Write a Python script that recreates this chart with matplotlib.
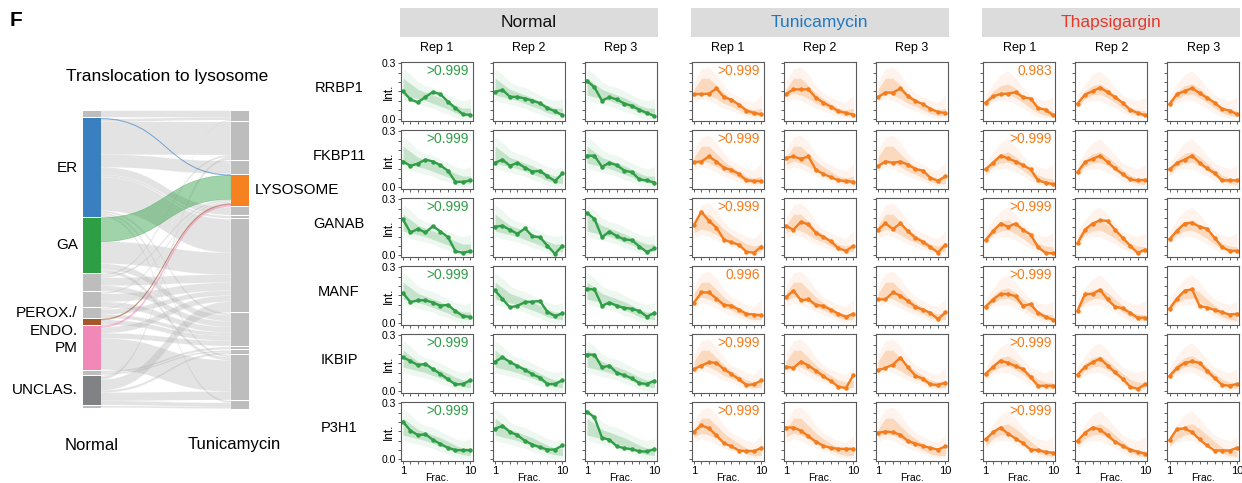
import numpy as np
import matplotlib
matplotlib.use("Agg")
import matplotlib.pyplot as plt
from matplotlib.path import Path
from matplotlib.patches import PathPatch, Rectangle

plt.rcParams['font.family'] = ['Liberation Sans', 'DejaVu Sans']

# ----------------
# data
# ----------------
proteins = ["RRBP1", "FKBP11", "GANAB", "MANF", "IKBIP", "P3H1"]
conditions = ["Normal", "Tunicamycin", "Thapsigargin"]
reps = ["Rep 1", "Rep 2", "Rep 3"]
fractions = list(range(1, 11))

# profiles of the highlighted protein, rows = proteins, 10 fractions each
normal_rep1 = [
    [0.151, 0.106, 0.091, 0.120, 0.146, 0.134, 0.094, 0.060, 0.026, 0.024],
    [0.138, 0.115, 0.127, 0.148, 0.138, 0.118, 0.088, 0.029, 0.029, 0.037],
    [0.192, 0.122, 0.141, 0.122, 0.156, 0.127, 0.097, 0.022, 0.014, 0.022],
    [0.162, 0.113, 0.123, 0.123, 0.111, 0.094, 0.099, 0.065, 0.039, 0.034],
    [0.182, 0.162, 0.140, 0.147, 0.118, 0.093, 0.064, 0.037, 0.039, 0.059],
    [0.201, 0.154, 0.129, 0.134, 0.104, 0.082, 0.062, 0.049, 0.049, 0.049],
]
normal_rep2 = [
    [0.146, 0.158, 0.120, 0.120, 0.111, 0.100, 0.086, 0.060, 0.043, 0.022],
    [0.131, 0.148, 0.115, 0.131, 0.105, 0.084, 0.088, 0.059, 0.034, 0.074],
    [0.153, 0.158, 0.136, 0.115, 0.144, 0.102, 0.097, 0.051, 0.008, 0.051],
    [0.176, 0.130, 0.085, 0.094, 0.113, 0.116, 0.119, 0.061, 0.039, 0.053],
    [0.158, 0.182, 0.157, 0.135, 0.115, 0.091, 0.073, 0.039, 0.039, 0.059],
    [0.163, 0.179, 0.146, 0.129, 0.099, 0.079, 0.065, 0.052, 0.052, 0.074],
]
normal_rep3 = [
    [0.206, 0.171, 0.100, 0.118, 0.106, 0.084, 0.072, 0.051, 0.034, 0.017],
    [0.169, 0.169, 0.110, 0.131, 0.118, 0.089, 0.081, 0.042, 0.037, 0.025],
    [0.226, 0.195, 0.097, 0.127, 0.102, 0.085, 0.081, 0.047, 0.017, 0.037],
    [0.184, 0.181, 0.094, 0.111, 0.094, 0.082, 0.078, 0.065, 0.036, 0.056],
    [0.196, 0.196, 0.128, 0.137, 0.098, 0.086, 0.069, 0.044, 0.039, 0.057],
    [0.255, 0.224, 0.116, 0.104, 0.070, 0.059, 0.054, 0.042, 0.042, 0.054],
]
tunica_rep1 = [
    [0.135, 0.135, 0.137, 0.165, 0.118, 0.105, 0.078, 0.047, 0.034, 0.027],
    [0.135, 0.138, 0.165, 0.138, 0.104, 0.093, 0.071, 0.037, 0.034, 0.034],
    [0.162, 0.233, 0.184, 0.148, 0.084, 0.069, 0.056, 0.019, 0.014, 0.047],
    [0.110, 0.165, 0.165, 0.132, 0.098, 0.094, 0.072, 0.051, 0.047, 0.042],
    [0.118, 0.138, 0.155, 0.152, 0.118, 0.093, 0.064, 0.034, 0.037, 0.059],
    [0.148, 0.182, 0.165, 0.128, 0.086, 0.069, 0.047, 0.044, 0.044, 0.061],
]
tunica_rep2 = [
    [0.135, 0.160, 0.160, 0.160, 0.115, 0.089, 0.067, 0.044, 0.034, 0.025],
    [0.157, 0.165, 0.152, 0.165, 0.093, 0.071, 0.054, 0.037, 0.034, 0.029],
    [0.157, 0.137, 0.179, 0.165, 0.120, 0.098, 0.074, 0.037, 0.024, 0.049],
    [0.140, 0.174, 0.123, 0.128, 0.098, 0.093, 0.072, 0.051, 0.034, 0.051],
    [0.131, 0.125, 0.159, 0.138, 0.110, 0.081, 0.054, 0.025, 0.017, 0.088],
    [0.170, 0.170, 0.153, 0.123, 0.094, 0.072, 0.061, 0.056, 0.056, 0.056],
]
tunica_rep3 = [
    [0.118, 0.143, 0.143, 0.165, 0.123, 0.098, 0.081, 0.056, 0.039, 0.034],
    [0.113, 0.138, 0.131, 0.138, 0.121, 0.098, 0.089, 0.051, 0.034, 0.059],
    [0.137, 0.171, 0.140, 0.171, 0.128, 0.094, 0.072, 0.044, 0.015, 0.057],
    [0.128, 0.128, 0.165, 0.148, 0.118, 0.089, 0.072, 0.056, 0.022, 0.059],
    [0.113, 0.125, 0.143, 0.180, 0.128, 0.084, 0.067, 0.037, 0.034, 0.046],
    [0.142, 0.148, 0.145, 0.131, 0.098, 0.084, 0.072, 0.061, 0.052, 0.069],
]
thaps_rep1 = [
    [0.089, 0.123, 0.135, 0.137, 0.145, 0.118, 0.111, 0.061, 0.051, 0.022],
    [0.096, 0.131, 0.169, 0.155, 0.138, 0.118, 0.096, 0.037, 0.025, 0.017],
    [0.081, 0.128, 0.170, 0.153, 0.170, 0.136, 0.111, 0.044, 0.013, 0.010],
    [0.089, 0.127, 0.157, 0.157, 0.145, 0.093, 0.103, 0.056, 0.034, 0.020],
    [0.093, 0.131, 0.164, 0.152, 0.135, 0.118, 0.076, 0.029, 0.030, 0.030],
    [0.106, 0.145, 0.170, 0.137, 0.111, 0.086, 0.052, 0.049, 0.039, 0.035],
]
thaps_rep2 = [
    [0.084, 0.132, 0.150, 0.170, 0.145, 0.118, 0.089, 0.051, 0.034, 0.022],
    [0.081, 0.135, 0.152, 0.169, 0.135, 0.101, 0.071, 0.042, 0.037, 0.040],
    [0.064, 0.137, 0.170, 0.187, 0.184, 0.137, 0.094, 0.052, 0.013, 0.030],
    [0.067, 0.157, 0.157, 0.179, 0.128, 0.089, 0.081, 0.056, 0.030, 0.030],
    [0.089, 0.131, 0.155, 0.175, 0.138, 0.101, 0.067, 0.025, 0.013, 0.037],
    [0.098, 0.142, 0.170, 0.159, 0.128, 0.094, 0.072, 0.052, 0.040, 0.030],
]
thaps_rep3 = [
    [0.081, 0.135, 0.150, 0.167, 0.140, 0.115, 0.089, 0.056, 0.047, 0.027],
    [0.096, 0.130, 0.148, 0.169, 0.131, 0.101, 0.076, 0.037, 0.037, 0.037],
    [0.086, 0.131, 0.170, 0.174, 0.153, 0.142, 0.094, 0.044, 0.024, 0.024],
    [0.078, 0.132, 0.174, 0.182, 0.093, 0.084, 0.072, 0.059, 0.047, 0.051],
    [0.081, 0.125, 0.152, 0.160, 0.152, 0.110, 0.071, 0.034, 0.030, 0.039],
    [0.103, 0.162, 0.165, 0.145, 0.106, 0.074, 0.047, 0.047, 0.047, 0.061],
]

# spread of the other lysosomal proteins (outer and core bands)
normal_outer_lo = [0.10, 0.09, 0.08, 0.07, 0.06, 0.04, 0.03, 0.01, 0.00, 0.00]
normal_outer_hi = [0.27, 0.24, 0.20, 0.18, 0.17, 0.15, 0.13, 0.11, 0.10, 0.11]
normal_core_lo = [0.13, 0.12, 0.11, 0.10, 0.085, 0.07, 0.055, 0.035, 0.025, 0.02]
normal_core_hi = [0.22, 0.19, 0.16, 0.145, 0.13, 0.115, 0.095, 0.075, 0.06, 0.06]

tunica_outer_lo = [0.09, 0.11, 0.10, 0.08, 0.06, 0.045, 0.03, 0.015, 0.005, 0.01]
tunica_outer_hi = [0.20, 0.27, 0.28, 0.24, 0.18, 0.14, 0.12, 0.10, 0.09, 0.13]
tunica_core_lo = [0.12, 0.14, 0.13, 0.11, 0.085, 0.07, 0.05, 0.03, 0.02, 0.02]
tunica_core_hi = [0.16, 0.22, 0.22, 0.18, 0.14, 0.11, 0.085, 0.06, 0.05, 0.06]

thaps_outer_lo = [0.06, 0.09, 0.10, 0.10, 0.08, 0.06, 0.035, 0.015, 0.005, 0.01]
thaps_outer_hi = [0.13, 0.19, 0.24, 0.26, 0.22, 0.17, 0.13, 0.11, 0.10, 0.12]
thaps_core_lo = [0.07, 0.11, 0.13, 0.135, 0.115, 0.09, 0.06, 0.035, 0.02, 0.015]
thaps_core_hi = [0.10, 0.15, 0.18, 0.19, 0.165, 0.13, 0.095, 0.065, 0.05, 0.045]

# correlation shown on Rep 1
normal_corr = [">0.999", ">0.999", ">0.999", ">0.999", ">0.999", ">0.999"]
tunica_corr = [">0.999", ">0.999", ">0.999", "0.996", ">0.999", ">0.999"]
thaps_corr = ["0.983", ">0.999", ">0.999", ">0.999", ">0.999", ">0.999"]

# sankey: nodes (top to bottom) and flows (source, target, size)
left_labels = ["", "ER", "GA", "", "", "", "PEROX./\nENDO.", "PM", "", "UNCLAS.", ""]
right_labels = ["", "", "", "LYSOSOME", "", "", "", "", "", "", "", ""]
flows = [
    (1, 3, 0.6), (0, 0, 6.6), (1, 0, 2.7), (1, 1, 33), (1, 2, 12.7),
    (1, 4, 7.7), (1, 5, 2.3), (1, 6, 33.4), (1, 7, 2), (1, 10, 2), (1, 11, 2),
    (2, 3, 24), (2, 6, 22), (2, 7, 6), (2, 10, 3),
    (3, 1, 2), (3, 3, 2), (3, 6, 8), (3, 7, 5.7),
    (4, 3, 1.5), (4, 6, 8), (4, 7, 5.5),
    (5, 3, 1), (5, 6, 5), (5, 7, 3.6),
    (6, 3, 1), (6, 7, 4.7),
    (7, 3, 1.5), (7, 6, 6), (7, 7, 5.2), (7, 10, 31.3),
    (8, 8, 2.3), (8, 9, 1.7),
    (9, 0, 1), (9, 1, 3), (9, 6, 10.6), (9, 9, 2.3), (9, 10, 8.3), (9, 11, 4.1),
    (10, 11, 1.6),
]

# ----------------
# styles
# ----------------
GRAY = "#bdbdbd"
left_colors = [GRAY, "#3a80c0", "#2e9e44", GRAY, GRAY, GRAY, "#a6562b",
               "#f088b8", GRAY, "#808285", GRAY]
right_colors = [GRAY] * 12
right_colors[3] = "#f5821f"
GREEN = "#2f9e46"
ORANGE = "#f37c1c"
cond_colors = [GREEN, ORANGE, ORANGE]
head_colors = ["#111111", "#1f78c1", "#e8392b"]

W, H = 1242, 483
fig = plt.figure(figsize=(W / 100, H / 100), dpi=100)


def px_axes(x, y, w, h):
    return fig.add_axes([x / W, 1 - (y + h) / H, w / W, h / H])


def fx(x):
    return x / W


def fy(y):
    return 1 - y / H


fig.text(fx(10), fy(20), "F", fontsize=15, fontweight="bold", va="center", ha="left")

# ----------------
# sankey
# ----------------
sk = px_axes(0, 0, 300, H)
sk.set_xlim(0, 300)
sk.set_ylim(H, 0)
sk.axis("off")

scale = 1.0
gap = 1.0
top = 110.7
xl0, xl1 = 82.7, 100.7
xr0, xr1 = 230.7, 249.3

left_sizes = [0.0] * len(left_labels)
right_sizes = [0.0] * len(right_labels)
for s, t, v in flows:
    left_sizes[s] += v
    right_sizes[t] += v


def stack(sizes):
    pos, y = [], top
    for v in sizes:
        pos.append(y)
        y += v * scale + gap
    return pos


left_pos = stack(left_sizes)
right_pos = stack(right_sizes)
left_off = list(left_pos)
right_off = list(right_pos)

colored = []
for s, t, v in flows:
    h = v * scale
    y0, y1 = left_off[s], left_off[s] + h
    t0, t1 = right_off[t], right_off[t] + h
    left_off[s] += h
    right_off[t] += h
    xm = (xl1 + xr0) / 2
    verts = [(xl1, y0), (xm, y0), (xm, t0), (xr0, t0), (xr0, t1),
             (xm, t1), (xm, y1), (xl1, y1), (xl1, y0)]
    codes = [Path.MOVETO, Path.CURVE4, Path.CURVE4, Path.CURVE4, Path.LINETO,
             Path.CURVE4, Path.CURVE4, Path.CURVE4, Path.CLOSEPOLY]
    if t == 3 and left_colors[s] != GRAY:
        colored.append((Path(verts, codes), left_colors[s]))
    else:
        sk.add_patch(PathPatch(Path(verts, codes), facecolor="#b0b0b0",
                               edgecolor="white", lw=0.3, alpha=0.35))
for p, c in colored:
    sk.add_patch(PathPatch(p, facecolor=c, edgecolor=c, lw=0.4, alpha=0.45))

for i, v in enumerate(left_sizes):
    sk.add_patch(Rectangle((xl0, left_pos[i]), xl1 - xl0, v * scale,
                           facecolor=left_colors[i], edgecolor="none"))
    if left_labels[i]:
        sk.text(xl0 - 5, left_pos[i] + v * scale / 2, left_labels[i], ha="right",
                va="center", fontsize=11, linespacing=1.35)
for i, v in enumerate(right_sizes):
    sk.add_patch(Rectangle((xr0, right_pos[i]), xr1 - xr0, v * scale,
                           facecolor=right_colors[i], edgecolor="none"))
    if right_labels[i]:
        sk.text(xr1 + 5, right_pos[i] + v * scale / 2, right_labels[i], ha="left",
                va="center", fontsize=11)

sk.text(167, 77, "Translocation to lysosome", ha="center", va="center", fontsize=12.5)
sk.text(92, 445, "Normal", ha="center", va="center", fontsize=12)
sk.text(234, 445, "Tunicamycin", ha="center", va="center", fontsize=12)

# ----------------
# profile panels
# ----------------
profiles = [
    [normal_rep1, normal_rep2, normal_rep3],
    [tunica_rep1, tunica_rep2, tunica_rep3],
    [thaps_rep1, thaps_rep2, thaps_rep3],
]
bands = [
    (normal_outer_lo, normal_outer_hi, normal_core_lo, normal_core_hi),
    (tunica_outer_lo, tunica_outer_hi, tunica_core_lo, tunica_core_hi),
    (thaps_outer_lo, thaps_outer_hi, thaps_core_lo, thaps_core_hi),
]
corrs = [normal_corr, tunica_corr, thaps_corr]

group_x0 = [400.7, 691.7, 983.3]
rep_dx = 92
panel_w = 72
row_y0 = 61.7
row_dy = 68
panel_h = 59.3

for g, cond in enumerate(conditions):
    # header box
    hb = px_axes(group_x0[g] - 1, 8, 258, 29)
    hb.set_facecolor("#dcdcdc")
    hb.set_xticks([])
    hb.set_yticks([])
    for sp in hb.spines.values():
        sp.set_visible(False)
    hb.text(0.5, 0.5, cond, ha="center", va="center", fontsize=12.5,
            color=head_colors[g], transform=hb.transAxes)
    lo, hi, clo, chi = bands[g]
    col = cond_colors[g]
    for r in range(3):
        x0 = group_x0[g] + r * rep_dx
        fig.text(fx(x0 + panel_w / 2), fy(48), reps[r], ha="center", va="center",
                 fontsize=9)
        for p, prot in enumerate(proteins):
            ax = px_axes(x0, row_y0 + p * row_dy, panel_w, panel_h)
            ax.fill_between(fractions, lo, hi, color=col, alpha=0.08, lw=0)
            ax.fill_between(fractions, clo, chi, color=col, alpha=0.22, lw=0)
            ax.plot(fractions, profiles[g][r][p], color=col, lw=1.7,
                    marker="o", ms=2.2)
            ax.set_xlim(0.7, 10.3)
            ax.set_ylim(-0.009, 0.308)
            ax.set_xticks(fractions)
            ax.set_yticks([0, 0.05, 0.1, 0.15, 0.2, 0.25, 0.3])
            ax.tick_params(length=2.2, width=0.6, color="#444444", pad=1.5,
                           labelsize=7.5)
            for sp in ax.spines.values():
                sp.set_color("#5a5a5a")
                sp.set_linewidth(0.8)
            if g == 0 and r == 0:
                ax.set_yticklabels(["0.0", "", "", "", "", "", "0.3"])
                ax.text(-0.17, 0.5, "Int.", transform=ax.transAxes, rotation=90,
                        ha="center", va="center", fontsize=8.5)
                fig.text(fx(339), fy(row_y0 + p * row_dy + panel_h / 2 - 3), prot,
                         ha="center", va="center", fontsize=10.5)
            else:
                ax.set_yticklabels([])
            if p == len(proteins) - 1:
                ax.set_xticklabels(["1", "", "", "", "", "", "", "", "", "10"],
                                   fontsize=8)
                ax.text(0.5, -0.2, "Frac.", transform=ax.transAxes, ha="center",
                        va="top", fontsize=7.5)
            else:
                ax.set_xticklabels([])
            if r == 0:
                ax.text(0.95, 0.96, corrs[g][p], transform=ax.transAxes,
                        ha="right", va="top", fontsize=10, color=col)

fig.savefig("out.png", dpi=100)
